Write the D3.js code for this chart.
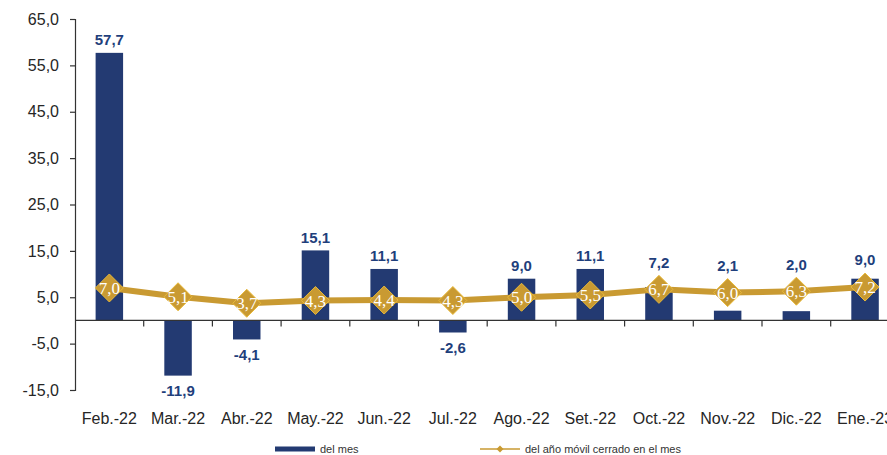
<!DOCTYPE html>
<html>
<head>
<meta charset="utf-8">
<script src="https://cdn.jsdelivr.net/npm/d3@7"></script>
<style>
  body { margin: 0; background: #fff; }
  svg { display: block; font-family: "Liberation Sans", Arial, sans-serif; }
</style>
</head>
<body>
<svg width="887" height="455"></svg>
<script>
// Chart data
const months = ["Feb.-22", "Mar.-22", "Abr.-22", "May.-22", "Jun.-22", "Jul.-22",
                "Ago.-22", "Set.-22", "Oct.-22", "Nov.-22", "Dic.-22", "Ene.-23"];
const monthly = [57.7, -11.9, -4.1, 15.1, 11.1, -2.6, 9.0, 11.1, 7.2, 2.1, 2.0, 9.0];
const rolling = [7.0, 5.1, 3.7, 4.3, 4.4, 4.3, 5.0, 5.5, 6.7, 6.0, 6.3, 7.2];
const yTicks = [-15, -5, 5, 15, 25, 35, 45, 55, 65];
const seriesNames = ["del mes", "del año móvil cerrado en el mes"];

const barColor = "#233a72";
const lineColor = "#c99a32";
const labelColor = "#1f3f7c";

// comma decimals and a plain hyphen for negatives
const locale = d3.formatLocale({ decimal: ",", thousands: ".", grouping: [3], currency: ["", ""], minus: "-" });
const fmt = locale.format(".1f");

const svg = d3.select("svg");

// scales (the plot runs past the right edge, like the original)
const x = d3.scaleBand().domain(months).range([75, 899.4]).padding(0);
const y = d3.scaleLinear().domain([-15, 65]).range([390, 19]);
const barW = x.bandwidth() * 0.4;
const cx = d => x(d) + x.bandwidth() / 2;

// y axis
const yAxis = svg.append("g")
  .attr("transform", "translate(75,0)")
  .call(d3.axisLeft(y).tickValues(yTicks).tickFormat(fmt).tickSize(5).tickPadding(11));
yAxis.select(".domain").attr("stroke", "#333").attr("stroke-width", 1.2);
yAxis.selectAll(".tick line").attr("stroke", "#333").attr("stroke-width", 1.2);
yAxis.selectAll("text")
  .attr("font-size", 16)
  .attr("fill", "#262626")
  .attr("font-family", "Liberation Sans, Arial, sans-serif");

// bars
svg.append("g").selectAll("rect")
  .data(months)
  .join("rect")
  .attr("x", d => cx(d) - barW / 2)
  .attr("width", barW)
  .attr("y", (d, i) => y(Math.max(0, monthly[i])))
  .attr("height", (d, i) => Math.abs(y(monthly[i]) - y(0)))
  .attr("fill", barColor);

// x axis at zero, ticks between categories
svg.append("line")
  .attr("x1", 75).attr("x2", 899)
  .attr("y1", y(0)).attr("y2", y(0))
  .attr("stroke", "#333").attr("stroke-width", 1.2);
svg.append("g").selectAll("line")
  .data(months.slice(1))
  .join("line")
  .attr("x1", d => x(d)).attr("x2", d => x(d))
  .attr("y1", y(0)).attr("y2", y(0) + 6)
  .attr("stroke", "#333").attr("stroke-width", 1.2);

svg.append("g").selectAll("text")
  .data(months)
  .join("text")
  .attr("x", d => cx(d))
  .attr("y", 424)
  .attr("text-anchor", "middle")
  .attr("font-size", 16)
  .attr("fill", "#262626")
  .text(d => d);

// rolling line
const line = d3.line()
  .x((d, i) => cx(months[i]))
  .y(d => y(d));
svg.append("path")
  .datum(rolling)
  .attr("d", line)
  .attr("fill", "none")
  .attr("stroke", lineColor)
  .attr("stroke-width", 6)
  .attr("stroke-linejoin", "round");

const dSize = 14;
svg.append("g").selectAll("path")
  .data(rolling)
  .join("path")
  .attr("transform", (d, i) => `translate(${cx(months[i])},${y(d)})`)
  .attr("d", `M0,${-dSize}L${dSize},0L0,${dSize}L${-dSize},0Z`)
  .attr("fill", lineColor)
  .attr("stroke", "#e8b93a")
  .attr("stroke-width", 1);

svg.append("g").selectAll("text")
  .data(rolling)
  .join("text")
  .attr("x", (d, i) => cx(months[i]))
  .attr("y", d => y(d))
  .attr("dy", "0.36em")
  .attr("text-anchor", "middle")
  .attr("font-family", "Liberation Serif, Times New Roman, serif")
  .attr("font-size", 17)
  .attr("fill", "#fff")
  .text(d => fmt(d));

// bar value labels, kept clear of the diamond markers
svg.append("g").selectAll("text")
  .data(monthly)
  .join("text")
  .attr("x", (d, i) => cx(months[i]))
  .attr("y", (d, i) => {
    if (d < 0) return y(d) + 15;
    return Math.min(y(d), y(rolling[i]) - dSize) - 13;
  })
  .attr("dy", "0.36em")
  .attr("text-anchor", "middle")
  .attr("font-size", 15)
  .attr("font-weight", "bold")
  .attr("fill", labelColor)
  .text(d => fmt(d));

// legend
const legend = svg.append("g").attr("font-size", 11).attr("fill", "#333");
legend.append("rect")
  .attr("x", 275).attr("y", 446.5).attr("width", 40).attr("height", 5)
  .attr("fill", barColor);
legend.append("text").attr("x", 320).attr("y", 449).attr("dy", "0.35em").text(seriesNames[0]);
legend.append("line")
  .attr("x1", 480).attr("x2", 520).attr("y1", 449).attr("y2", 449)
  .attr("stroke", lineColor).attr("stroke-width", 1.5);
legend.append("path")
  .attr("transform", "translate(500,449)")
  .attr("d", "M0,-3.5L3.5,0L0,3.5L-3.5,0Z")
  .attr("fill", lineColor);
legend.append("text").attr("x", 525).attr("y", 449).attr("dy", "0.35em").text(seriesNames[1]);
</script>
</body>
</html>
